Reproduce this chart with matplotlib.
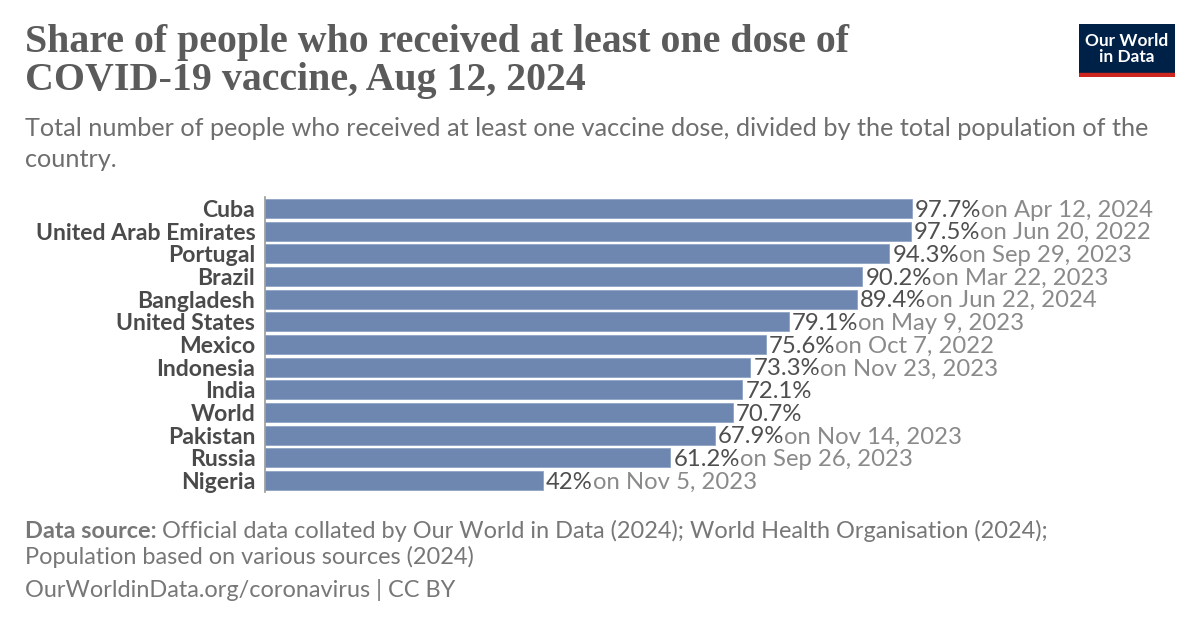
import matplotlib.pyplot as plt
from matplotlib.text import Annotation

# data
countries = ["Cuba", "United Arab Emirates", "Portugal", "Brazil", "Bangladesh",
             "United States", "Mexico", "Indonesia", "India", "World",
             "Pakistan", "Russia", "Nigeria"]
shares = [97.7, 97.5, 94.3, 90.2, 89.4, 79.1, 75.6, 73.3, 72.1, 70.7, 67.9, 61.2, 42]
value_labels = ["97.7%", "97.5%", "94.3%", "90.2%", "89.4%", "79.1%", "75.6%",
                "73.3%", "72.1%", "70.7%", "67.9%", "61.2%", "42%"]
dates = ["on Apr 12, 2024", "on Jun 20, 2022", "on Sep 29, 2023", "on Mar 22, 2023",
         "on Jun 22, 2024", "on May 9, 2023", "on Oct 7, 2022", "on Nov 23, 2023",
         "", "", "on Nov 14, 2023", "on Sep 26, 2023", "on Nov 5, 2023"]

title = "Share of people who received at least one dose of\nCOVID-19 vaccine, Aug 12, 2024"
subtitle = ("Total number of people who received at least one vaccine dose, divided by the total population of the\n"
            "country.")
source1 = "Official data collated by Our World in Data (2024); World Health Organisation (2024);"
source2 = "Population based on various sources (2024)"
source3 = "OurWorldinData.org/coronavirus | CC BY"

plt.rcParams['font.family'] = ['Lato', 'DejaVu Sans']

W, H = 1200, 628
fig = plt.figure(figsize=(W / 100, H / 100), dpi=100)

# axes: left edge x=265px, rows from y=197 to 492
ax_left, ax_right = 265, 1180
ax_top, ax_bot = 197, 492
ax = fig.add_axes([ax_left / W, 1 - ax_bot / H, (ax_right - ax_left) / W, (ax_bot - ax_top) / H])
px_per_unit = (912 - 265) / 97.7
ax.set_xlim(0, (ax_right - ax_left) / px_per_unit)
ax.set_ylim(len(countries) - 0.5, -0.5)

ypos = list(range(len(countries)))
ax.barh(ypos, shares, height=0.84, color="#6d87b0", edgecolor="#8fa3c4", linewidth=0.6)

# value label + date label right after it
for y, v, lab, d in zip(ypos, shares, value_labels, dates):
    t = ax.text(v + 0.45, y + 0.36, lab, fontsize=17.2, color="#4f4f4f", va="baseline")
    if d:
        ax.annotate(d, xy=(1, 0), xycoords=t, fontsize=17.2, color="#8a8a8a",
                    va="bottom", ha="left")

ax.set_yticks(ypos)
ax.set_yticklabels(countries, fontsize=16.6, fontweight="bold", color="#4a4a4a")
ax.tick_params(axis="y", length=0, pad=7)
ax.set_xticks([])
for s in ["top", "right", "bottom"]:
    ax.spines[s].set_visible(False)
ax.spines["left"].set_color("#999999")
ax.spines["left"].set_linewidth(1.2)

# title and subtitle
fig.text(25 / W, 1 - 24 / H, title, fontsize=28.7, family=["Liberation Serif", "DejaVu Serif"],
         fontweight="bold", color="#5b5b5b", va="top", ha="left", linespacing=1.05)
fig.text(25 / W, 1 - 117 / H, subtitle, fontsize=18.2, color="#6e6e6e", va="top", ha="left",
         linespacing=1.4)

# footer
ds = fig.text(25 / W, 1 - 531 / H, "Data source: ", fontsize=16.9, fontweight="bold",
              color="#777777", va="center", ha="left")
fig.add_artist(Annotation(source1, xy=(1, 0), xycoords=ds, fontsize=16.9, color="#777777",
                          va="bottom", ha="left"))
fig.text(25 / W, 1 - 557 / H, source2, fontsize=16.9, color="#777777", va="center", ha="left")
fig.text(25 / W, 1 - 590 / H, source3, fontsize=16.9, color="#777777", va="center", ha="left")

# logo
logo = fig.add_axes([1079 / W, 1 - 77 / H, 96 / W, 53 / H])
logo.set_xlim(0, 96)
logo.set_ylim(53, 0)
logo.axis("off")
logo.add_patch(plt.Rectangle((0, 0), 96, 49, color="#002147"))
logo.add_patch(plt.Rectangle((0, 49), 96, 4, color="#ce261e"))
logo.text(48, 25, "Our World\nin Data", color="white", fontsize=12.4, fontweight="bold",
          ha="center", va="center", linespacing=1.0)

fig.savefig("out.png", dpi=100)
